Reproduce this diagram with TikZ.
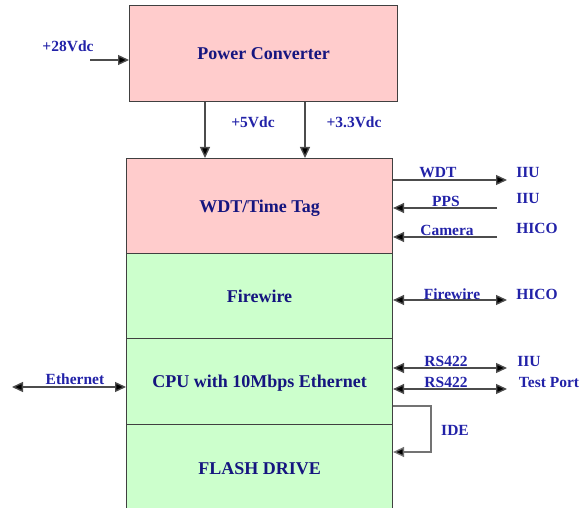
\documentclass[tikz,border=0pt]{standalone}
\usepackage{fontspec}
\setmainfont{Liberation Serif}
\usetikzlibrary{arrows.meta}
\definecolor{pinkfill}{HTML}{FFCCCC}
\definecolor{greenfill}{HTML}{CCFFCC}
\definecolor{titleblue}{HTML}{15157F}
\definecolor{labelblue}{HTML}{2222A8}
\definecolor{edge}{HTML}{404040}
\tikzset{
  blk/.style={draw=edge, line width=1.1pt, anchor=north west, inner sep=0pt,
    font=\fontsize{18}{20}\selectfont\bfseries, text=titleblue,
    text height=12pt, text depth=0pt},
  lbl/.style={inner sep=0pt, font=\fontsize{15.5}{17}\selectfont\bfseries, text=labelblue,
    text height=10pt, text depth=0pt},
  tip/.tip={Triangle[length=11pt,width=10pt,fill=black]},
  arr/.style={draw=black!70, line width=1.4pt, -tip},
  darr/.style={draw=black!70, line width=1.4pt, tip-tip},
}
\begin{document}
\begin{tikzpicture}[x=1pt,y=-1pt]
\useasboundingbox (0,0) rectangle (581,508);
\clip (0,0) rectangle (581,508);
% blocks
\node[blk, fill=pinkfill, minimum width=268pt, minimum height=96pt] (pc) at (129,5) {Power Converter};
\node[blk, fill=pinkfill, minimum width=266pt, minimum height=95pt] (wdt) at (126,158) {WDT/Time Tag};
\node[blk, fill=greenfill, minimum width=266pt, minimum height=85pt] (fw) at (126,253) {Firewire};
\node[blk, fill=greenfill, minimum width=266pt, minimum height=86pt] (cpu) at (126,338) {CPU with 10Mbps Ethernet};
\node[blk, fill=greenfill, minimum width=266pt, minimum height=88pt] (flash) at (126,424) {FLASH DRIVE};
% free-end coordinates
\coordinate (in28) at (90,60);
\coordinate (x5) at (205,0);
\coordinate (x33) at (305,0);
\coordinate (wdtE) at (507,180);
\coordinate (ppsE) at (497,208);
\coordinate (camE) at (497,237);
\coordinate (fwE) at (507,300);
\coordinate (rs1E) at (507,368);
\coordinate (rs2E) at (507,389);
\coordinate (ethE) at (12,387);
\coordinate (ideA) at (431,406);
\coordinate (ideB) at (431,452);
% connectors
\draw[arr] (in28) -- (in28 -| pc.west);
\draw[arr] (x5 |- pc.south) -- (x5 |- wdt.north);
\draw[arr] (x33 |- pc.south) -- (x33 |- wdt.north);
\draw[arr] (wdtE -| wdt.east) -- (wdtE);
\draw[arr] (ppsE) -- (ppsE -| wdt.east);
\draw[arr] (camE) -- (camE -| wdt.east);
\draw[darr] (fwE -| fw.east) -- (fwE);
\draw[darr] (rs1E -| cpu.east) -- (rs1E);
\draw[darr] (rs2E -| cpu.east) -- (rs2E);
\draw[darr] (ethE) -- (ethE -| cpu.west);
\draw[arr, draw=black!55] (ideA -| cpu.east) -- (ideA) -- (ideB) -- (ideB -| flash.east);
% labels
\node[lbl] (l28) at (68,47) {+28Vdc};
\node[lbl] (l5) at (253,123) {+5Vdc};
\node[lbl] (l33) at (354,123) {+3.3Vdc};
\node[lbl] (lwdt) at (438,173) {WDT};
\node[lbl] (lpps) at (446,201) {PPS};
\node[lbl] (lcam) at (447,230) {Camera};
\node[lbl] (lfw) at (452,294) {Firewire};
\node[lbl] (lrs1) at (446,361) {RS422};
\node[lbl] (lrs2) at (446,382) {RS422};
\node[lbl] (lide) at (455,430) {IDE};
\node[lbl] (leth) at (75,379) {Ethernet};
\node[lbl] (d1) at (528,173) {IIU};
\node[lbl] (d2) at (528,199) {IIU};
\node[lbl] (d3) at (537,228) {HICO};
\node[lbl] (d4) at (537,294) {HICO};
\node[lbl] (d5) at (529,361) {IIU};
\node[lbl] (d6) at (549,382) {Test Port};
\end{tikzpicture}
\end{document}
